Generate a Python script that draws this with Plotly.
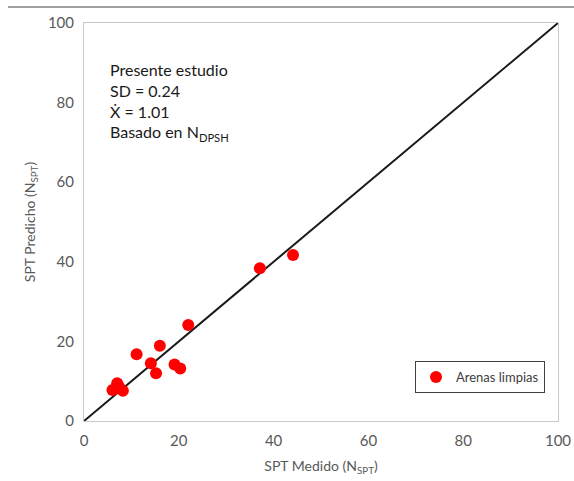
import plotly.graph_objects as go

medido = [44.1, 37.1, 22.0, 16.0, 11.1, 14.1, 15.2, 19.1, 20.3, 7.0, 6.0, 8.2, 7.4]
predicho = [41.7, 38.4, 24.1, 18.9, 16.8, 14.5, 12.0, 14.2, 13.2, 9.5, 7.8, 7.6, 8.6]
linea_x = [0, 100]
linea_y = [0, 100]
ticks = [0, 20, 40, 60, 80, 100]

font = "Lato, 'Open Sans', sans-serif"
gray = "#595959"

fig = go.Figure()
fig.add_trace(go.Scatter(x=linea_x, y=linea_y, mode="lines",
                         line=dict(color="#1a1a1a", width=2), showlegend=False, hoverinfo="skip"))
fig.add_trace(go.Scatter(x=medido, y=predicho, mode="markers", name="Arenas limpias",
                         marker=dict(color="#ff0000", size=12, line=dict(width=0))))

axis_common = dict(range=[0, 100], tickvals=ticks, showgrid=False, zeroline=False,
                   showline=True, mirror=True, linecolor="#c8c8c8", linewidth=1,
                   ticks="", automargin=False,
                   tickfont=dict(family=font, size=15, color=gray))

fig.update_layout(
    width=574, height=481,
    margin=dict(l=84, r=16, t=23, b=60),
    paper_bgcolor="white", plot_bgcolor="white",
    font=dict(family=font, color=gray),
    xaxis=dict(**axis_common, ticklabelstandoff=6,
               title=dict(text="SPT Medido (N<sub>SPT</sub>)",
                          font=dict(family=font, size=14, color=gray), standoff=13)),
    yaxis=dict(**axis_common, ticklabelstandoff=6,
               title=dict(text="SPT Predicho (N<sub>SPT</sub>)",
                          font=dict(family=font, size=14, color=gray), standoff=8)),
    legend=dict(x=(545 - 84) / 474, y=(421 - 361) / 398, xanchor="right", yanchor="top",
                bordercolor="#404040", borderwidth=1, bgcolor="white",
                font=dict(family=font, size=13, color="#404040"),
                itemwidth=30, tracegroupgap=0),
    showlegend=True,
)

fig.add_annotation(
    xref="paper", yref="paper", x=(108 - 84) / 474, y=(421 - 58) / 398,
    xanchor="left", yanchor="top", align="left", showarrow=False,
    text="Presente estudio<br>SD = 0.24<br>Ẋ = 1.01<br>Basado en N<sub>DPSH</sub>",
    font=dict(family=font, size=16, color="#1a1a1a"),
)

fig.add_shape(type="line", xref="paper", yref="paper",
              x0=-76 / 474, x1=1 + 16 / 474, y0=(421 - 7) / 398, y1=(421 - 7) / 398,
              line=dict(color="#a0a0a0", width=2))

fig.write_html("out.html")
